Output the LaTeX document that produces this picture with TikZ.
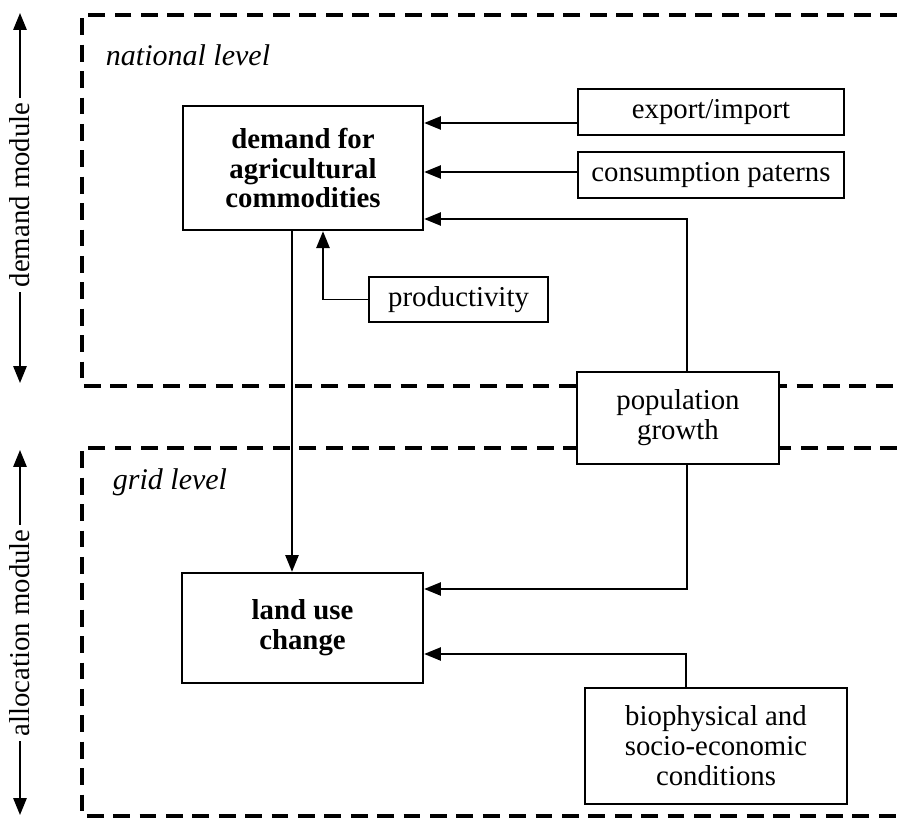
\documentclass[tikz,border=0pt]{standalone}
\usepackage{fontspec}
\setmainfont{Liberation Serif}
\usetikzlibrary{arrows.meta,calc}

\begin{document}
\begin{tikzpicture}[x=0.4167pt,y=-0.4167pt,
        box/.style={draw,line width=1pt,fill=white,align=center,inner sep=0pt,font=\fontsize{12}{12.5}\selectfont},
        flow/.style={line width=0.8pt,-{Triangle[length=7pt,width=5.5pt]}},
        level/.style={dash pattern=on 7pt off 4pt,line width=1.6pt},
        module/.style={line width=0.8pt,{Triangle[length=7pt,width=5.5pt]}-{Triangle[length=7pt,width=5.5pt]}},
        modlabel/.style={rotate=90,fill=white,inner sep=2pt,font=\fontsize{12}{12.5}\selectfont},
        levlabel/.style={font=\fontsize{12.5}{13}\selectfont\itshape}]
    \useasboundingbox (0,0) rectangle (897,818);

    % the two levels
    \draw[level] (897,15) -- (82,15) -- (82,386) -- (897,386);
    \draw[level] (897,448) -- (82,448) -- (82,816) -- (897,816);
    \node[levlabel] (natlabel) at (188,55) {national level};
    \node[levlabel] (gridlabel) at (170,482) {grid level};

    % modules along the left side
    \coordinate (dmtop) at (20,13);
    \coordinate (dmbot) at (20,383);
    \coordinate (amtop) at (20,450);
    \coordinate (ambot) at (20,815);
    \draw[module] (dmbot) -- (dmtop);
    \draw[module] (ambot) -- (amtop);
    \node[modlabel] (dmlabel) at (20,195) {demand module};
    \node[modlabel] (amlabel) at (20,633) {allocation module};

    % boxes
    \node[box,minimum width=100pt,minimum height=51.7pt] (demand) at (303,168) {\textbf{demand for}\\\textbf{agricultural}\\\textbf{commodities}};
    \node[box,minimum width=110.8pt,minimum height=19.2pt] (export) at (711,112) {export/import};
    \node[box,minimum width=110.8pt,minimum height=19.2pt] (consump) at (711,175) {consumption paterns};
    \node[box,minimum width=74.6pt,minimum height=18.75pt] (prod) at (458.5,299.5) {productivity};
    \node[box,minimum width=84.2pt,minimum height=38.3pt] (pop) at (678,418) {population\\growth};
    \node[box,minimum width=100.4pt,minimum height=45.8pt] (landuse) at (302.5,628) {\textbf{land use}\\\textbf{change}};
    \node[box,minimum width=109.2pt,minimum height=48.3pt] (bio) at (716,746) {biophysical and\\socio-economic\\conditions};

    % connectors
    \coordinate (expin) at ($(export.west)+(0,11)$);
    \coordinate (conin) at ($(consump.west)+(0,-3)$);
    \draw[flow] (expin) -- (expin -| demand.east);
    \draw[flow] (conin) -- (conin -| demand.east);
    \draw[flow] ($(pop.north)+(9,0)$) |- ($(demand.east)+(0,51)$);
    \draw[flow] (prod.west) -| ($(demand.south)+(20,0)$);
    \draw[flow] ($(demand.south)+(-11,0)$) -- ($(landuse.north)+(-10.5,0)$);
    \draw[flow] ($(pop.south)+(9,0)$) |- ($(landuse.east)+(0,-39)$);
    \draw[flow] ($(bio.north)+(-30,0)$) |- ($(landuse.east)+(0,26)$);
\end{tikzpicture}
\end{document}
